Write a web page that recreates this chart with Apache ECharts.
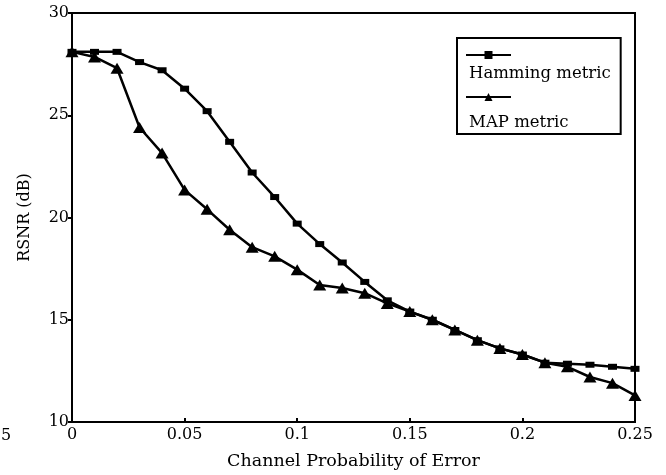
<!DOCTYPE html>
<html>
<head>
<meta charset="utf-8">
<script src="https://cdn.jsdelivr.net/npm/echarts@6/dist/echarts.min.js"></script>
<style>
  html, body { margin: 0; padding: 0; background: #fff; }
  #chart { width: 666px; height: 475px; }
</style>
</head>
<body>
<div id="chart"></div>
<script>
const errorProb = [0, 0.01, 0.02, 0.03, 0.04, 0.05, 0.06, 0.07, 0.08, 0.09, 0.1, 0.11, 0.12,
  0.13, 0.14, 0.15, 0.16, 0.17, 0.18, 0.19, 0.2, 0.21, 0.22, 0.23, 0.24, 0.25]
const hammingRsnr = [28.1, 28.1, 28.1, 27.6, 27.2, 26.3, 25.2, 23.7, 22.2, 21.0, 19.7, 18.7, 17.8,
  16.85, 15.95, 15.4, 15.0, 14.5, 14.0, 13.6, 13.3, 12.9, 12.85, 12.8, 12.7, 12.6]
const mapRsnr = [28.1, 27.85, 27.3, 24.4, 23.15, 21.35, 20.4, 19.4, 18.55, 18.1, 17.45, 16.7, 16.55,
  16.3, 15.8, 15.4, 15.0, 14.5, 14.0, 13.6, 13.3, 12.9, 12.7, 12.2, 11.9, 11.3]
const yTicks = [10, 15, 20, 25, 30]
const xTicks = [0, 0.05, 0.1, 0.15, 0.2, 0.25]

const font = 'DejaVu Serif'
const pairs = (ys) => errorProb.map((x, i) => [x, ys[i]])

const chart = echarts.init(document.getElementById('chart'))
chart.setOption({
  animation: false,
  backgroundColor: '#fff',
  grid: {
    left: 72,
    right: 31,
    top: 13,
    bottom: 53,
    show: true,
    borderColor: '#000',
    borderWidth: 2,
  },
  xAxis: {
    type: 'value',
    min: xTicks[0],
    max: xTicks[xTicks.length - 1],
    interval: 0.05,
    name: 'Channel Probability of Error',
    nameLocation: 'middle',
    nameGap: 30,
    nameTextStyle: { color: '#000', fontFamily: font, fontSize: 17.5 },
    axisLine: { lineStyle: { color: '#000', width: 2 } },
    axisTick: { inside: true, length: 4, lineStyle: { color: '#000', width: 2 } },
    axisLabel: { color: '#000', fontFamily: font, fontSize: 16, margin: 5 },
    splitLine: { show: false },
  },
  yAxis: {
    type: 'value',
    min: yTicks[0],
    max: yTicks[yTicks.length - 1],
    interval: 5,
    name: 'RSNR (dB)',
    nameLocation: 'middle',
    nameGap: 39,
    nameTextStyle: { color: '#000', fontFamily: font, fontSize: 16 },
    axisLine: { lineStyle: { color: '#000', width: 2 } },
    axisTick: { length: 4, lineStyle: { color: '#000', width: 2 } },
    axisLabel: { color: '#000', fontFamily: font, fontSize: 16, margin: 3 },
    splitLine: { show: false },
  },
  legend: [
    {
      // line samples only
      orient: 'vertical',
      left: 465,
      top: 51,
      itemWidth: 45,
      itemHeight: 10,
      itemGap: 34,
      padding: 0,
      selectedMode: false,
      formatter: () => '',
      textStyle: { fontSize: 1, lineHeight: 1 },
      data: ['Hamming metric', 'MAP metric'],
    },
    {
      // labels with the frame
      orient: 'vertical',
      left: 457,
      top: 38,
      padding: [27, 10, 3, 6],
      itemWidth: 0,
      itemHeight: 0,
      itemGap: 32,
      selectedMode: false,
      borderColor: '#000',
      borderWidth: 2,
      textStyle: { color: '#000', fontFamily: font, fontSize: 16.5, padding: 0 },
      data: ['Hamming metric', 'MAP metric'],
    },
  ],
  graphic: [
    { type: 'text', left: 1, top: 428, style: { text: '5', fontFamily: font, fontSize: 16, fill: '#000' } },
  ],
  series: [
    {
      name: 'Hamming metric',
      type: 'line',
      data: pairs(hammingRsnr),
      symbol: 'rect',
      symbolSize: [9, 6],
      lineStyle: { color: '#000', width: 2.5 },
      itemStyle: { color: '#000' },
    },
    {
      name: 'MAP metric',
      type: 'line',
      data: pairs(mapRsnr),
      symbol: 'triangle',
      symbolSize: [13, 11],
      lineStyle: { color: '#000', width: 2.5 },
      itemStyle: { color: '#000' },
    },
  ],
})
</script>
</body>
</html>
